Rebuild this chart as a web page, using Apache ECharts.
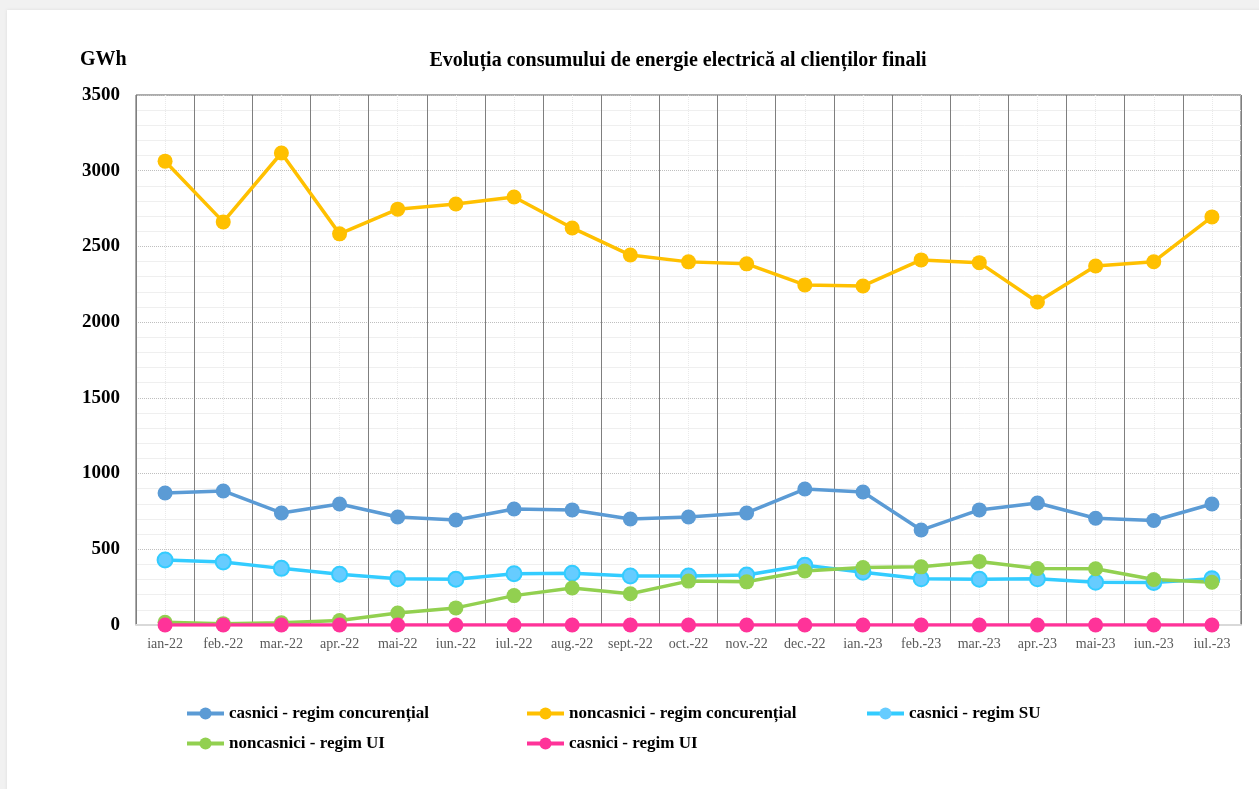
<!DOCTYPE html>
<html><head><meta charset="utf-8">
<script src="https://cdn.jsdelivr.net/npm/echarts@6/dist/echarts.min.js"></script>
<style>
html,body{margin:0;padding:0;background:#f1f1f1;width:1259px;height:789px;overflow:hidden}
#card{position:absolute;left:7px;top:10px;width:1260px;height:790px;background:#fff;box-shadow:0 0 3px #ddd}
#c{position:absolute;left:0;top:0;width:1259px;height:789px}
</style></head><body>
<div id="card"></div>
<div id="c"></div>
<script>
const categories = ['ian-22','feb.-22','mar.-22','apr.-22','mai-22','iun.-22','iul.-22','aug.-22','sept.-22','oct.-22','nov.-22','dec.-22','ian.-23','feb.-23','mar.-23','apr.-23','mai-23','iun.-23','iul.-23'];
const casniciConcurential = [872,885,740,799,713,693,766,760,700,713,740,898,878,627,760,806,705,690,799];
const noncasniciConcurential = [3063,2662,3117,2583,2746,2780,2826,2622,2443,2398,2385,2246,2239,2411,2393,2133,2371,2399,2695];
const casniciSU = [430,416,374,335,306,302,339,341,324,324,330,394,348,305,302,305,282,280,306];
const noncasniciUI = [18,9,15,30,79,113,194,244,206,290,285,357,380,384,420,373,371,300,282];
const casniciUI = [0,0,0,0,0,0,0,0,0,0,0,0,0,0,0,0,0,0,0];
const yTicks = [0,500,1000,1500,2000,2500,3000,3500];

const serif = 'Liberation Serif';
const chart = echarts.init(document.getElementById('c'));
function ser(name, data, color, fill){
  return {name, type:'line', data, xAxisIndex:0, yAxisIndex:0,
    symbol:'circle', symbolSize:15,
    lineStyle:{color, width:3.5},
    itemStyle:{color: fill||color, borderColor:color, borderWidth: fill?2:0},
    emphasis:{disabled:true}, z:3};
}
const legendText = {fontFamily:serif, fontWeight:'bold', fontSize:17, color:'#000'};
const legendBase = {orient:'vertical', padding:0, itemGap:13, itemWidth:37, itemHeight:15, textStyle:legendText,
  lineStyle:{width:4}, itemStyle:{borderWidth:0}};
chart.setOption({
  animation:false,
  title:{text:'Evoluția consumului de energie electrică al clienților finali', left:673, textAlign:'center', top:46,
    textStyle:{fontFamily:serif, fontWeight:'bold', fontSize:20, color:'#000'}},
  graphic:[{type:'text', left:80, top:50, style:{text:'GWh', font:'bold 20px "Liberation Serif"', fill:'#000'}}],
  grid:{left:136, right:18, top:95, bottom:164, show:true, borderColor:'#595959', borderWidth:1},
  legend:[
    Object.assign({data:['casnici - regim concurențial','noncasnici - regim UI'], left:185, top:705}, legendBase),
    Object.assign({data:['noncasnici - regim concurențial','casnici - regim UI'], left:525, top:705}, legendBase),
    Object.assign({data:['casnici - regim SU'], left:865, top:705}, legendBase)
  ],
  xAxis:[
    {type:'category', data:categories, boundaryGap:true,
      axisLine:{lineStyle:{color:'#d9d9d9', width:2}}, axisTick:{show:false},
      axisLabel:{fontFamily:serif, fontSize:14, color:'#595959', margin:12, interval:0},
      splitLine:{show:true, interval:0, lineStyle:{color:'#7f7f7f', width:1}}, z:2},
    {type:'value', min:0, max:19, interval:1, show:true, position:'top',
      axisLine:{show:false}, axisTick:{show:false}, axisLabel:{show:false},
      splitLine:{show:false},
      minorTick:{show:false, splitNumber:2},
      minorSplitLine:{show:true, lineStyle:{color:'#e9e9e9', type:'dotted', width:1}}}
  ],
  yAxis:{type:'value', min:0, max:3500, interval:500,
    axisLine:{show:true, lineStyle:{color:'#a6a6a6'}}, axisTick:{show:false},
    axisLabel:{fontFamily:serif, fontWeight:'bold', fontSize:19, color:'#000', margin:16,
      formatter:v=>yTicks.includes(v)?String(v):''},
    splitLine:{show:true, lineStyle:{color:'#bfbfbf', type:'dotted', width:1}},
    minorTick:{show:false, splitNumber:5},
    minorSplitLine:{show:true, lineStyle:{color:'#efefef', width:1}}},
  series:[
    ser('casnici - regim concurențial', casniciConcurential, '#5B9BD5'),
    ser('noncasnici - regim concurențial', noncasniciConcurential, '#FFC000'),
    ser('casnici - regim SU', casniciSU, '#33CCFF', '#66CCFF'),
    ser('noncasnici - regim UI', noncasniciUI, '#92D050'),
    ser('casnici - regim UI', casniciUI, '#FF3399')
  ]
});
</script></body></html>
